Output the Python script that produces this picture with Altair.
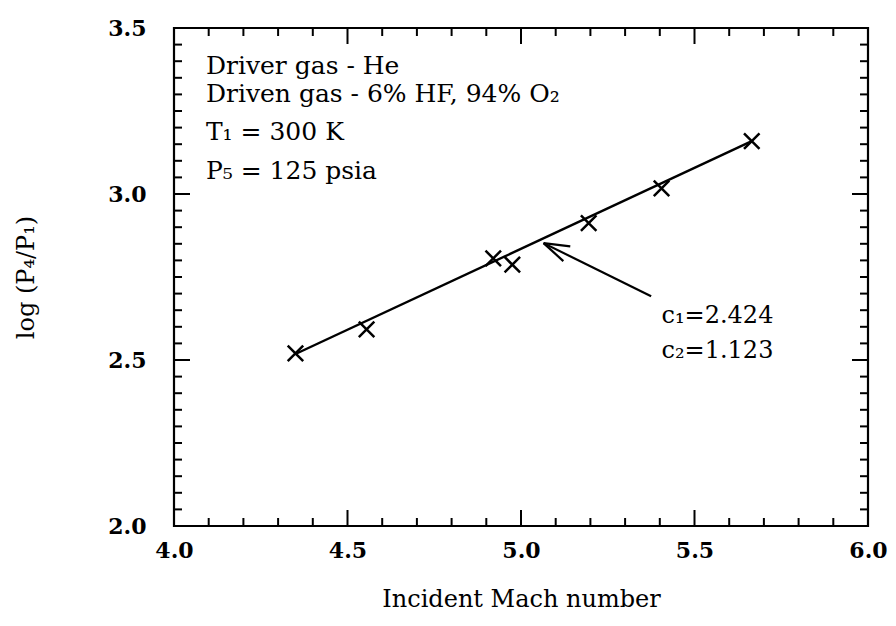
import altair as alt
import pandas as pd

# ---- data ----
mach = [4.35, 4.555, 4.92, 4.975, 5.195, 5.405, 5.665]
logp = [2.52, 2.592, 2.806, 2.787, 2.912, 3.017, 3.159]

fit_x = [4.35, 5.665]
fit_y = [2.518, 3.159]

# arrow segments (tail -> tip, and two barbs)
arrow_x = [5.375, 5.065, 5.065]
arrow_y = [2.692, 2.852, 2.852]
arrow_x2 = [5.065, 5.142, 5.122]
arrow_y2 = [2.852, 2.842, 2.798]

info_text = ["Driver gas - He", "Driven gas - 6% HF, 94% O\u2082", "T\u2081 = 300 K", "P\u2085 = 125 psia"]
info_x = [4.092, 4.092, 4.092, 4.092]
info_y = [3.362, 3.278, 3.162, 3.046]

coef_text = ["c\u2081=2.424", "c\u2082=1.123"]
coef_x = [5.405, 5.405]
coef_y = [2.612, 2.505]

x_labels = [4.0, 4.5, 5.0, 5.5, 6.0]
y_labels = [2.0, 2.5, 3.0, 3.5]
x_major = [4.5, 5.0, 5.5]
x_minor = [round(4.0 + 0.1 * i, 2) for i in range(1, 20) if i % 5 != 0]
y_major = [2.5, 3.0]
y_minor = [round(2.0 + 0.05 * i, 3) for i in range(1, 30) if i % 10 != 0]

W, H = 694, 498
FONT = "DejaVu Serif"

xs = alt.Scale(domain=[4.0, 6.0], nice=False, zero=False)
ys = alt.Scale(domain=[2.0, 3.5], nice=False, zero=False)

pts = pd.DataFrame({"x": mach, "y": logp})
fit = pd.DataFrame({"x": fit_x, "y": fit_y})
arr = pd.DataFrame({"x": arrow_x, "y": arrow_y, "x2": arrow_x2, "y2": arrow_y2})
info = pd.DataFrame({"t": info_text, "x": info_x, "y": info_y})
coef = pd.DataFrame({"t": coef_text, "x": coef_x, "y": coef_y})

base_axes = alt.Chart(pts).mark_point(opacity=0).encode(
    x=alt.X("x:Q", scale=xs, axis=alt.Axis(
        values=x_labels, format=".1f", ticks=False, domain=False, grid=False,
        labelFlush=False,
        labelFont=FONT, labelFontSize=22, labelFontWeight="bold", labelColor="black",
        labelPadding=14, title="Incident Mach number", titleFont=FONT,
        titleFontSize=24, titleFontWeight="normal", titleColor="black",
        titleBaseline="alphabetic", titleY=80)),
    y=alt.Y("y:Q", scale=ys, axis=alt.Axis(
        values=y_labels, format=".1f", ticks=False, domain=False, grid=False,
        labelFlush=False,
        labelFont=FONT, labelFontSize=22, labelFontWeight="bold", labelColor="black",
        labelPadding=28, title="log (P\u2084/P\u2081)", titleFont=FONT,
        titleFontSize=24, titleFontWeight="normal", titleColor="black",
        titleAngle=270, titleAlign="center", titleBaseline="middle",
        titleX=-148, titleY=H / 2)),
)

line = alt.Chart(fit).mark_line(color="black", strokeWidth=2.4).encode(
    x=alt.X("x:Q", scale=xs), y=alt.Y("y:Q", scale=ys))

marks = alt.Chart(pts).mark_point(
    shape="M-1,-1L1,1M1,-1L-1,1", size=240, filled=False, color="black",
    strokeWidth=2.5, opacity=1).encode(
    x=alt.X("x:Q", scale=xs), y=alt.Y("y:Q", scale=ys))

arrow = alt.Chart(arr).mark_rule(color="black", strokeWidth=2.2).encode(
    x=alt.X("x:Q", scale=xs), y=alt.Y("y:Q", scale=ys),
    x2="x2:Q", y2="y2:Q")

info_t = alt.Chart(info).mark_text(
    font=FONT, fontSize=25, align="left", baseline="alphabetic", color="black").encode(
    x=alt.X("x:Q", scale=xs), y=alt.Y("y:Q", scale=ys), text="t:N")

coef_t = alt.Chart(coef).mark_text(
    font=FONT, fontSize=24, align="left", baseline="alphabetic", color="black").encode(
    x=alt.X("x:Q", scale=xs), y=alt.Y("y:Q", scale=ys), text="t:N")


def xticks(vals, length, top):
    d = pd.DataFrame({"v": vals})
    y1, y2 = (0, length) if top else (H, H - length)
    return alt.Chart(d).mark_rule(color="black", strokeWidth=2).encode(
        x=alt.X("v:Q", scale=xs), y=alt.value(y1), y2=alt.value(y2))


def yticks(vals, length, right):
    d = pd.DataFrame({"v": vals})
    x1, x2 = (W, W - length) if right else (0, length)
    return alt.Chart(d).mark_rule(color="black", strokeWidth=2).encode(
        y=alt.Y("v:Q", scale=ys), x=alt.value(x1), x2=alt.value(x2))


tick_layers = [
    xticks(x_major, 16, False), xticks(x_minor, 8, False),
    xticks(x_major, 16, True), xticks(x_minor, 8, True),
    yticks(y_major, 16, False), yticks(y_minor, 8, False),
    yticks(y_major, 16, True), yticks(y_minor, 8, True),
]

chart = alt.layer(base_axes, *tick_layers, line, marks, arrow, info_t, coef_t).properties(
    width=W, height=H,
    autosize=alt.AutoSizeParams(type="none"),
    padding={"left": 166, "top": 20, "right": 20, "bottom": 90},
).configure(
    background="white",
    view=alt.ViewConfig(stroke="black", strokeWidth=2.2),
)

chart.save("out.html", embed_options={"renderer": "svg", "actions": False})
